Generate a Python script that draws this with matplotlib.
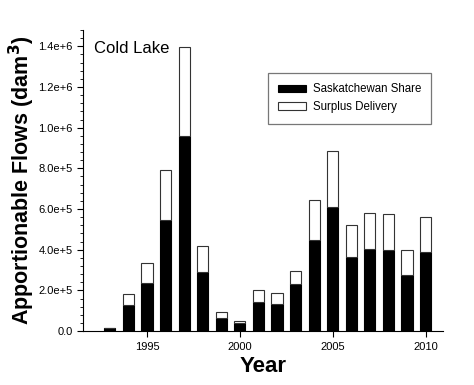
import matplotlib
matplotlib.use('Agg')
import matplotlib.pyplot as plt
from matplotlib.ticker import MultipleLocator, FuncFormatter

plt.rcParams['font.family'] = ['Liberation Sans', 'DejaVu Sans']

years = [1993, 1994, 1995, 1996, 1997, 1998, 1999, 2000, 2001, 2002,
         2003, 2004, 2005, 2006, 2007, 2008, 2009, 2010]
sask_share = [1.3e4, 1.27e5, 2.35e5, 5.48e5, 9.61e5, 2.9e5, 6.6e4, 3.8e4, 1.42e5, 1.34e5,
              2.3e5, 4.46e5, 6.1e5, 3.64e5, 4.05e5, 4.0e5, 2.77e5, 3.89e5]
total_flow = [1.3e4, 1.81e5, 3.37e5, 7.92e5, 1.396e6, 4.16e5, 9.4e4, 5.1e4, 2.0e5, 1.86e5,
              2.96e5, 6.45e5, 8.87e5, 5.22e5, 5.81e5, 5.78e5, 3.97e5, 5.61e5]
surplus = [t - s for t, s in zip(total_flow, sask_share)]

fig = plt.figure(figsize=(4.74, 3.85), dpi=100)
ax = fig.add_axes([0.175, 0.14, 0.76, 0.782])

ax.bar(years, sask_share, width=0.6, color='black', edgecolor='black',
       linewidth=0.8, label='Saskatchewan Share')
ax.bar(years, surplus, width=0.6, bottom=sask_share, color='white',
       edgecolor='#333333', linewidth=0.8, label='Surplus Delivery')

ax.set_xlim(1991.55, 2010.95)
ax.set_ylim(0, 1.48e6)
ax.set_xticks([1995, 2000, 2005, 2010])
ax.yaxis.set_major_locator(MultipleLocator(2e5))
ax.yaxis.set_minor_locator(MultipleLocator(4e4))


def sci_fmt(v, pos):
    if v == 0:
        return '0.0'
    s = '%.1e' % v
    mant, ex = s.split('e')
    return '%se%+d' % (mant, int(ex))


ax.yaxis.set_major_formatter(FuncFormatter(sci_fmt))
ax.tick_params(axis='both', which='major', direction='out', length=4, labelsize=8)
ax.tick_params(axis='y', which='minor', direction='out', length=2)

for side in ['top', 'right']:
    ax.spines[side].set_visible(False)

ax.set_xlabel('Year', fontsize=16, fontweight='bold', labelpad=3)
ax.set_ylabel('Apportionable Flows (dam$^\\mathbf{3}$)', fontsize=15.5, fontweight='bold',
              labelpad=1)

ax.text(0.03, 0.965, 'Cold Lake', transform=ax.transAxes, fontsize=12, va='top')

leg = ax.legend(loc='upper right', bbox_to_anchor=(0.967, 0.857), fontsize=8.3,
                fancybox=False, edgecolor='#555555', handlelength=2.4,
                handleheight=0.6, handletextpad=0.6, borderpad=0.9,
                borderaxespad=0)
leg.get_frame().set_linewidth(0.9)

fig.savefig('out.png', dpi=100)
